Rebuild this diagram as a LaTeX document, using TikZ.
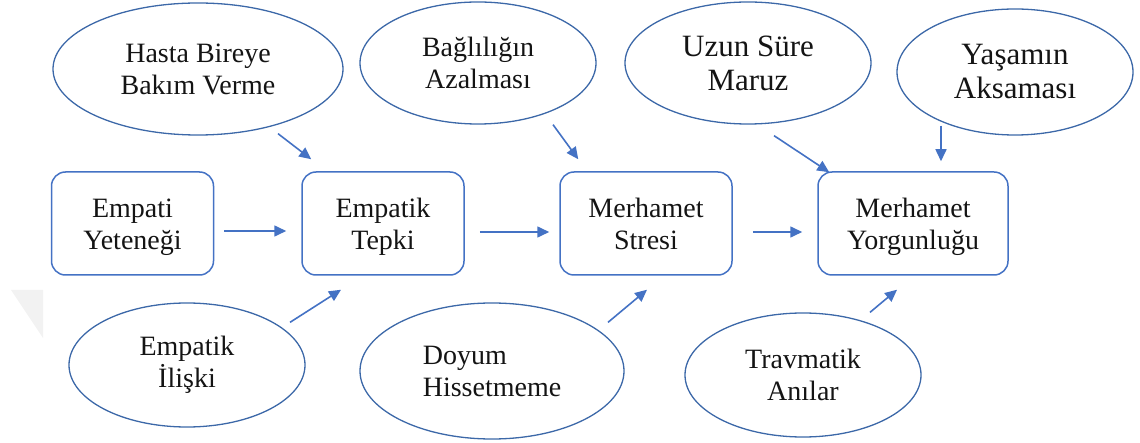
\documentclass[tikz,border=0pt]{standalone}
\usepackage{fontspec}
\setmainfont{Liberation Serif}
\usetikzlibrary{shapes.geometric,arrows.meta,calc}
\definecolor{boxblue}{HTML}{4472C4}
\definecolor{ellblue}{HTML}{3C68A8}
\definecolor{arrblue}{HTML}{4472C4}
\definecolor{txt}{HTML}{141414}
\begin{document}
\begin{tikzpicture}[x=1pt,y=-1pt,
  box/.style={draw=boxblue,line width=1.5pt,rounded corners=14pt,minimum height=103pt,inner sep=0pt,
    text height=63pt,text depth=10pt,
    align=center,text=txt,font=\fontsize{28}{32}\selectfont},
  ell/.style={draw=ellblue,line width=1.3pt,ellipse,inner sep=0pt,align=center,text=txt,
    font=\fontsize{28}{32}\selectfont},
  bigtext/.style={font=\fontsize{31}{34}\selectfont},
  arr/.style={draw=arrblue,line width=1.6pt,-{Triangle[length=12pt,width=11pt]}}]
\useasboundingbox (0,0) rectangle (1140,443);
\fill[gray!10] (11,290) -- (43,290) -- (43,338) -- cycle;
% boxes
\node[box,minimum width=162pt] (emp) at (132.5,223.5) {Empati\\Yeteneği};
\node[box,minimum width=162pt] (tep) at (383,223.5) {Empatik\\Tepki};
\node[box,minimum width=172pt] (str) at (646,223.5) {Merhamet\\Stresi};
\node[box,minimum width=190pt] (yor) at (913,223.5) {Merhamet\\Yorgunluğu};
% ellipses
\node[ell,minimum width=290pt,minimum height=132pt] (has) at (198,69) {Hasta Bireye\\Bakım Verme};
\node[ell,minimum width=236pt,minimum height=122pt] (bag) at (478,63) {Bağlılığın\\Azalması};
\node[ell,bigtext,minimum width=246pt,minimum height=122pt] (uzu) at (748,63) {Uzun Süre\\Maruz};
\node[ell,bigtext,minimum width=236pt,minimum height=126pt] (yas) at (1015,72) {Yaşamın\\Aksaması};
\node[ell,minimum width=236pt,minimum height=124pt] (ili) at (187,365) {Empatik\\İlişki};
\node[ell,align=left,minimum width=264pt,minimum height=136pt] (doy) at (492,371) {Doyum\\Hissetmeme};
\node[ell,minimum width=236pt,minimum height=124pt] (tra) at (803,375) {Travmatik\\Anılar};
% arrows
\draw[arr] ($(has.south)+(80,-2)$) -- ($(tep.north west)+(10,-12)$);
\draw[arr] ($(bag.south)+(75,0)$) -- ($(str.north west)+(19,-12)$);
\draw[arr] ($(uzu.south)+(26,11)$) -- ($(yor.north west)+(12,1)$);
\draw[arr] ($(yas.south)+(-74,-10)$) -- ($(yor.north)+(28,-10)$);
\draw[arr] ($(emp.east)+(10,7.5)$) -- ($(tep.west)+(-15,7.5)$);
\draw[arr] ($(tep.east)+(15,8.5)$) -- ($(str.west)+(-10,8.5)$);
\draw[arr] ($(str.east)+(20,8.5)$) -- ($(yor.west)+(-15,8.5)$);
\draw[arr] ($(ili.north)+(103,20)$) -- ($(tep.south)+(-42,14)$);
\draw[arr] ($(doy.north)+(116,20)$) -- ($(str.south)+(1,14)$);
\draw[arr] ($(tra.north)+(67,0)$) -- ($(yor.south)+(-16,14)$);
\end{tikzpicture}
\end{document}
